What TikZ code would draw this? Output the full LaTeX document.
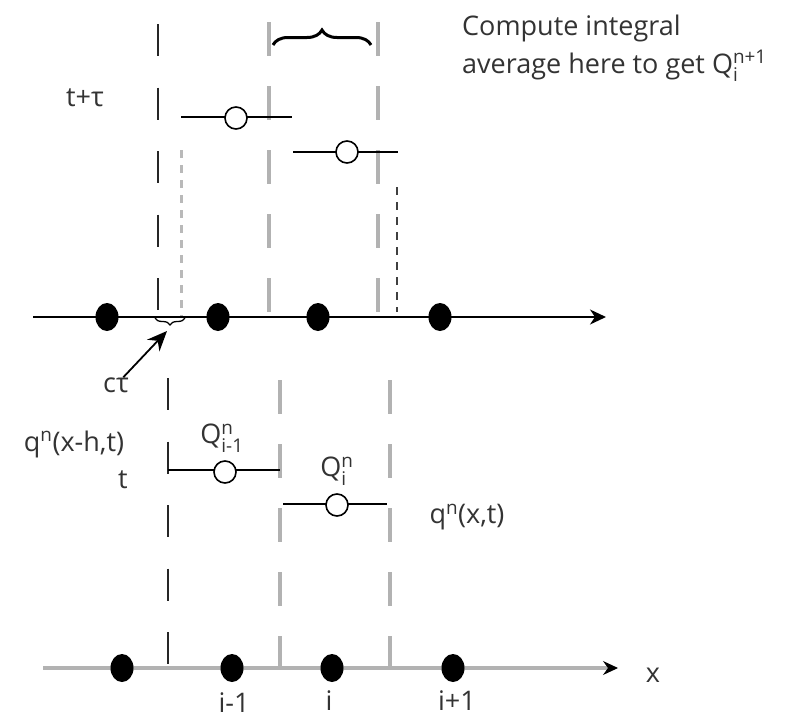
\documentclass[tikz,border=0pt]{standalone}
\usepackage{amsmath}
\usepackage{fontspec}
\setmainfont{Open Sans}
\usepackage{tikz}
\usetikzlibrary{arrows.meta,calc,decorations.pathreplacing,shapes.geometric}

\begin{document}
\begin{tikzpicture}[x=1pt,y=-1pt]
	\tikzset{dot/.style = {ellipse,fill,inner sep=0,minimum width=23pt,minimum height=28pt}}
	\tikzset{cellavg/.style = {circle,draw,line width=1.6pt,inner sep=0,minimum size=22pt}}
	\tikzset{lbl/.style = {inner sep=0,text=black!80,font=\fontsize{27}{36}\selectfont}}
	\tikzset{blackdash/.style = {line width=1.8pt,black!85,dash pattern=on 32pt off 31.5pt}}
	\tikzset{graydash/.style = {line width=3.6pt,gray!60,dash pattern=on 34pt off 30pt}}
	\tikzset{stepline/.style = {line width=1.6pt}}
	\useasboundingbox (0,0) rectangle (800,720);

	% grid lines, upper picture
	\draw[blackdash] (158,24) -- (158,317);
	\draw[graydash] (269,22) -- (269,317);
	\draw[graydash] (378,22) -- (378,317);
	\draw[line width=3pt,gray!55,dash pattern=on 8pt off 7pt] (181,150) -- (181,317);
	\draw[line width=2pt,black!75,dash pattern=on 8pt off 7pt] (397,187) -- (397,312);

	% grid lines, lower picture
	\draw[blackdash] (168,378) -- (168,668);
	\draw[graydash] (280,380) -- (280,668);
	\draw[graydash] (390,380) -- (390,668);

	% axes
	\coordinate (axAs) at (33,317);
	\coordinate (axAe) at (606,317);
	\coordinate (axBs) at (43,668);
	\coordinate (axBe) at (618,668);
	\draw[line width=1.8pt,-{Stealth[length=16pt,width=15pt,inset=5pt]}] (axAs) -- (axAe);
	\draw[line width=3.6pt,gray!60] (axBs) -- ($(axBe)+(-8,0)$);
	\draw[line width=1pt,-{Stealth[length=15pt,width=14pt,inset=5pt]}] ($(axBe)+(-10,0)$) -- (axBe);

	% vertices
	\node[dot] (u1) at (107,317) {};
	\node[dot] (u2) at (218,317) {};
	\node[dot] (u3) at (318,317) {};
	\node[dot] (u4) at (440,317) {};
	\node[dot] (l1) at (122,668) {};
	\node[dot] (l2) at (232,668) {};
	\node[dot] (l3) at (332,668) {};
	\node[dot] (l4) at (453,668) {};

	% cell values
	\coordinate (sA1) at (181,117);
	\coordinate (sA2) at (292,117);
	\coordinate (sB1) at (293,152);
	\coordinate (sB2) at (398,152);
	\coordinate (sC1) at (168,470);
	\coordinate (sC2) at (280,470);
	\coordinate (sD1) at (283,504);
	\coordinate (sD2) at (387,504);
	\draw[stepline] (sA1) -- (sA2);
	\draw[stepline] (sB1) -- (sB2);
	\draw[stepline] (sC1) -- (sC2);
	\draw[stepline] (sD1) -- (sD2);
	\node[cellavg,fill=white] (Qup1) at (236,118) {};
	\node[cellavg,fill=white] (Qup2) at (347,152) {};
	\node[cellavg,fill=white] (Qlo1) at (225,472) {};
	\node[cellavg,fill=white] (Qlo2) at (337,505) {};

	% braces
	\draw[decorate,decoration={brace,amplitude=15pt},line width=3pt] (273,45) -- (371,45);
	\draw[decorate,decoration={brace,amplitude=7pt},line width=1.3pt] (185,318) -- (155,318);
	\coordinate (ctip) at (167,331);

	% labels
	\node[lbl,anchor=base west] (avgtxt1) at (462,35) {Compute integral};
	\node[lbl,anchor=base west] (avgtxt2) at (462,73) {average here to get Q$_{\text{i}}^{\text{n+1}}$};
	\node[lbl] (ttau) at (85,98) {t+τ};
	\node[lbl] (ctau) at (116,385) {cτ};
	\node[lbl] (qleft) at (74,444) {q$^{\text{n}}$(x-h,t)};
	\node[lbl] (tlbl) at (123,480) {t};
	\node[lbl] (Qim1) at (222,438) {Q$_{\text{i-1}}^{\text{n}}$};
	\node[lbl] (Qi) at (337,471) {Q$_{\text{i}}^{\text{n}}$};
	\node[lbl] (qright) at (467,517) {q$^{\text{n}}$(x,t)};
	\node[lbl] (im1) at (234,703) {i-1};
	\node[lbl] (ii) at (329,701) {i};
	\node[lbl] (ip1) at (457,701) {i+1};
	\node[lbl] (xlbl) at (653,675) {x};

	% edges
	\draw[line width=1.8pt,-{Stealth[length=20pt,width=17pt]}] (ctau) -- (ctip);
\end{tikzpicture}
\end{document}
